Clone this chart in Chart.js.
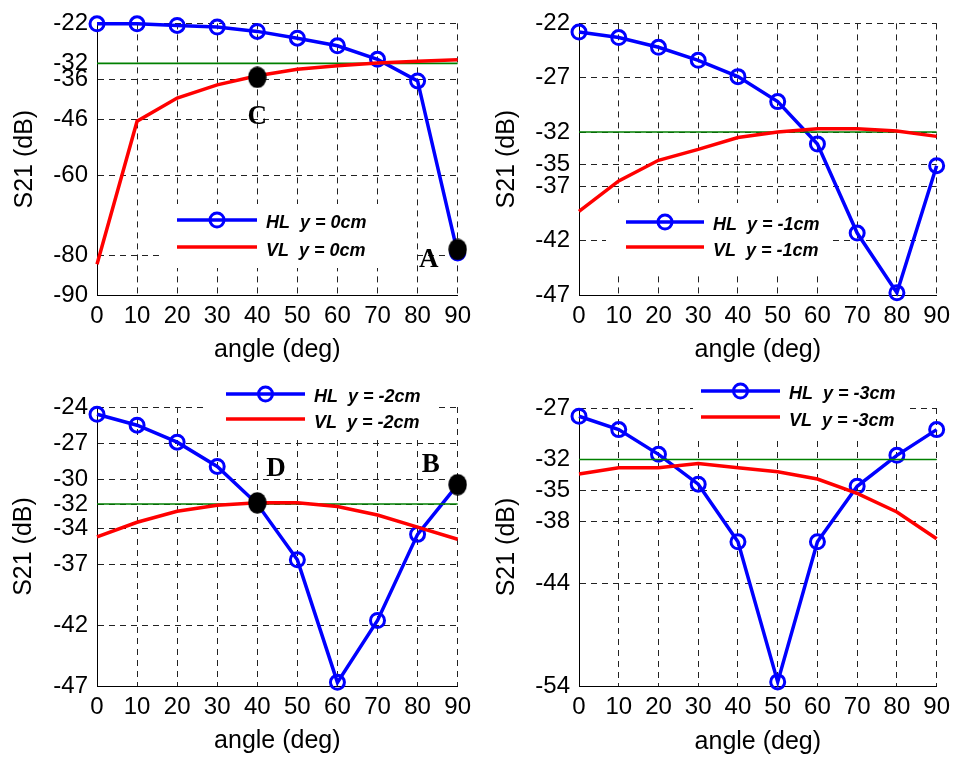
<!DOCTYPE html>
<html>
<head>
<meta charset="utf-8">
<script src="https://cdn.jsdelivr.net/npm/chart.js@4.4.0/dist/chart.umd.min.js"></script>
<style>
html,body{margin:0;padding:0;background:#fff;}
#wrap{position:relative;width:957px;height:758px;overflow:hidden;background:#fff;}
#wrap canvas{position:absolute;}
</style>
</head>
<body>
<div id="wrap">
<canvas id="c0" width="478" height="379" style="left:0px;top:0px;width:478px;height:379px"></canvas>
<canvas id="c1" width="479" height="379" style="left:478px;top:0px;width:479px;height:379px"></canvas>
<canvas id="c2" width="478" height="379" style="left:0px;top:379px;width:478px;height:379px"></canvas>
<canvas id="c3" width="479" height="379" style="left:478px;top:379px;width:479px;height:379px"></canvas>
</div>
<script>
// ---------- DATA ----------
const angles = [0, 10, 20, 30, 40, 50, 60, 70, 80, 90];
const refLevel = -32;

// panel 1: y = 0cm
const hl0 = [-22.1, -22.1, -22.5, -22.9, -24.0, -25.7, -27.6, -31.0, -36.4, -79.5];
const vl0 = [-82.3, -46.5, -40.7, -37.4, -35.1, -33.5, -32.6, -31.9, -31.5, -31.1];
const yTicks0 = [-90, -80, -60, -46, -36, -32, -22];
const marks0 = [{x: 40, y: -35.5}, {x: 90, y: -78.6}];
const letters0 = [{x: 40, y: -45.5, t: 'C'}, {x: 82.8, y: -81.2, t: 'A'}];

// panel 2: y = -1cm
const hl1 = [-22.8, -23.3, -24.2, -25.4, -26.9, -29.2, -33.1, -41.3, -46.8, -35.1];
const vl1 = [-39.3, -36.5, -34.6, -33.6, -32.5, -32.0, -31.7, -31.7, -31.9, -32.4];
const yTicks1 = [-47, -42, -37, -35, -32, -27, -22];
const marks1 = [];
const letters1 = [];

// panel 3: y = -2cm
const hl2 = [-24.6, -25.5, -26.9, -28.9, -32.0, -36.6, -46.7, -41.6, -34.5, -30.4];
const vl2 = [-34.7, -33.5, -32.6, -32.1, -31.9, -31.9, -32.2, -32.9, -33.9, -34.9];
const yTicks2 = [-47, -42, -37, -34, -32, -30, -27, -24];
const marks2 = [{x: 40, y: -31.9}, {x: 90, y: -30.4}];
const letters2 = [{x: 44.7, y: -29.1, t: 'D'}, {x: 83.3, y: -28.8, t: 'B'}];

// panel 4: y = -3cm
const hl3 = [-27.8, -29.1, -31.5, -34.4, -40.0, -53.6, -40.0, -34.6, -31.6, -29.1];
const vl3 = [-33.4, -32.8, -32.8, -32.4, -32.8, -33.2, -33.9, -35.3, -37.1, -39.7];
const yTicks3 = [-54, -44, -38, -35, -32, -27];
const marks3 = [];
const letters3 = [];

const xTicks = [0, 10, 20, 30, 40, 50, 60, 70, 80, 90];
const hlNames = ['HL  y = 0cm', 'HL  y = -1cm', 'HL  y = -2cm', 'HL  y = -3cm'];
const vlNames = ['VL  y = 0cm', 'VL  y = -1cm', 'VL  y = -2cm', 'VL  y = -3cm'];

// ---------- STYLE / LAYOUT ----------
const FONT = '"Liberation Sans", Arial, Helvetica, sans-serif';
const BLUE = '#0000ff', RED = '#ff0000', GREEN = '#008000';

const panels = [
  {id: 'c0', hl: hl0, vl: vl0, yt: yTicks0, marks: marks0, letters: letters0,
   pad: {top: 17, right: 19, left: 0, bottom: 0}, yW: 97, xH: 84, yTitlePad: 10, xTitlePad: 14,
   leg: {box: [162, 204, 250, 64], x1: 177, x2: 257, y1: 220, y2: 247, tx: 266}},
  {id: 'c1', hl: hl1, vl: vl1, yt: yTicks1, marks: marks1, letters: letters1,
   pad: {top: 16, right: 16, left: 0, bottom: 0}, yW: 101, xH: 84, yTitlePad: 14.5, xTitlePad: 14,
   leg: {box: [128, 203, 224, 69], x1: 148, x2: 226, y1: 222, y2: 247, tx: 235}},
  {id: 'c2', hl: hl2, vl: vl2, yt: yTicks2, marks: marks2, letters: letters2,
   pad: {top: 28, right: 19, left: 0, bottom: 0}, yW: 97, xH: 72, yTitlePad: 9, xTitlePad: 2.3,
   leg: {box: [208, 0, 227, 61], x1: 226, x2: 305, y1: 15, y2: 40, tx: 314}},
  {id: 'c3', hl: hl3, vl: vl3, yt: yTicks3, marks: marks3, letters: letters3,
   pad: {top: 29, right: 16, left: 0, bottom: 0}, yW: 101, xH: 72, yTitlePad: 14.5, xTitlePad: 1.3,
   leg: {box: [215, 0, 214, 58], x1: 223, x2: 302, y1: 12, y2: 38, tx: 311}}
];

// black filled ellipse used as point style for the marked points
const blob = document.createElement('canvas');
blob.width = 19; blob.height = 22;
(function () {
  const c = blob.getContext('2d');
  c.fillStyle = '#000';
  c.beginPath();
  c.ellipse(9.5, 11, 9.2, 10.8, 0, 0, Math.PI * 2);
  c.fill();
})();

const overlay = {
  id: 'overlay',
  afterDatasetsDraw(chart, args, opts) {
    const ctx = chart.ctx;
    const xs = chart.scales.x, ys = chart.scales.y;
    ctx.save();
    // letters
    ctx.font = 'bold 27px "Liberation Serif", "Times New Roman", serif';
    ctx.fillStyle = '#000';
    ctx.textAlign = 'center';
    ctx.textBaseline = 'middle';
    (opts.letters || []).forEach(l => {
      ctx.fillText(l.t, xs.getPixelForValue(l.x), ys.getPixelForValue(l.y));
    });
    // legend
    const L = opts.leg;
    const ds = chart.data.datasets;
    const hl = ds.find(d => d.role === 'hl');
    const vl = ds.find(d => d.role === 'vl');
    ctx.fillStyle = '#fff';
    ctx.fillRect(L.box[0], L.box[1], L.box[2], L.box[3]);
    ctx.lineCap = 'butt';
    ctx.strokeStyle = hl.borderColor;
    ctx.lineWidth = hl.borderWidth;
    ctx.beginPath(); ctx.moveTo(L.x1, L.y1); ctx.lineTo(L.x2, L.y1); ctx.stroke();
    ctx.lineWidth = hl.pointBorderWidth;
    ctx.beginPath(); ctx.arc((L.x1 + L.x2) / 2, L.y1, hl.pointRadius, 0, Math.PI * 2); ctx.stroke();
    ctx.strokeStyle = vl.borderColor;
    ctx.lineWidth = vl.borderWidth;
    ctx.beginPath(); ctx.moveTo(L.x1, L.y2); ctx.lineTo(L.x2, L.y2); ctx.stroke();
    ctx.fillStyle = '#000';
    ctx.font = 'italic bold 18px ' + FONT;
    ctx.textAlign = 'left';
    ctx.textBaseline = 'middle';
    ctx.fillText(hl.label, L.tx, L.y1 + 3);
    ctx.fillText(vl.label, L.tx, L.y2 + 4);
    ctx.restore();
  }
};

panels.forEach((p, i) => {
  const toXY = arr => angles.map((a, k) => ({x: a, y: arr[k]}));
  new Chart(document.getElementById(p.id), {
    type: 'line',
    data: {
      datasets: [
        {role: 'mk', data: p.marks, showLine: false, pointStyle: blob, pointRadius: 10,
         borderColor: '#000', backgroundColor: '#000', clip: false},
        {role: 'vl', label: vlNames[i], data: toXY(p.vl), borderColor: RED, borderWidth: 3.5,
         pointRadius: 0, tension: 0, clip: false, fill: false},
        {role: 'ref', data: angles.map(a => ({x: a, y: refLevel})), borderColor: GREEN, borderWidth: 1.6,
         pointRadius: 0, tension: 0, clip: false, fill: false},
        {role: 'hl', label: hlNames[i], data: toXY(p.hl), borderColor: BLUE, borderWidth: 3.5,
         pointRadius: 7, pointBorderWidth: 3, pointBorderColor: BLUE,
         pointBackgroundColor: 'rgba(0,0,0,0)', pointStyle: 'circle', tension: 0, clip: false, fill: false}
      ]
    },
    options: {
      responsive: false,
      animation: false,
      events: [],
      layout: {padding: p.pad},
      plugins: {
        legend: {display: false},
        tooltip: {enabled: false},
        overlay: {leg: p.leg, letters: p.letters}
      },
      scales: {
        x: {
          type: 'linear', min: 0, max: 90,
          afterBuildTicks: s => { s.ticks = xTicks.map(v => ({value: v})); },
          afterFit: s => { s.height = p.xH; },
          ticks: {color: '#000', font: {family: FONT, size: 24}, padding: 7, maxRotation: 0, autoSkip: false},
          grid: {color: '#222', lineWidth: 1, drawTicks: false},
          border: {display: true, color: '#000', width: 1, dash: [6, 5]},
          title: {display: true, text: 'angle (deg)', color: '#000', font: {family: FONT, size: 25},
                  padding: {top: 0, bottom: p.xTitlePad}}
        },
        y: {
          type: 'linear', min: p.yt[0], max: p.yt[p.yt.length - 1],
          afterBuildTicks: s => { s.ticks = p.yt.map(v => ({value: v})); },
          afterFit: s => { s.width = p.yW; },
          ticks: {color: '#000', font: {family: FONT, size: 24}, padding: 9, autoSkip: false},
          grid: {color: '#222', lineWidth: 1, drawTicks: false},
          border: {display: true, color: '#000', width: 1, dash: [6, 5]},
          title: {display: true, text: 'S21 (dB)', color: '#000', font: {family: FONT, size: 25},
                  padding: {top: p.yTitlePad, bottom: 0}}
        }
      }
    },
    plugins: [overlay]
  });
});
</script>
</body>
</html>
